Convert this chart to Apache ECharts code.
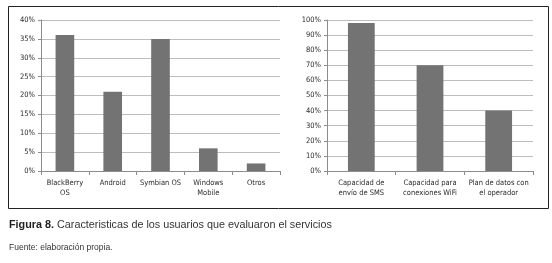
<!DOCTYPE html>
<html>
<head>
<meta charset="utf-8">
<script src="https://cdn.jsdelivr.net/npm/echarts@6/dist/echarts.min.js"></script>
<style>
  html, body { margin: 0; padding: 0; background: #fff; }
  #main { width: 552px; height: 263px; }
</style>
</head>
<body>
<div id="main"></div>
<script>
// left chart: sistema operativo
var osCategories = ['BlackBerry\nOS', 'Android', 'Symbian OS', 'Windows\nMobile', 'Otros'];
var osValues = [36, 21, 35, 6, 2];
var osTicks = [0, 40, 5];

// right chart: capacidades
var capCategories = ['Capacidad de\nenvío de SMS', 'Capacidad para\nconexiones WiFi', 'Plan de datos con\nel operador'];
var capValues = [98, 70, 40];
var capTicks = [0, 100, 10];

var captionTitle = 'Figura 8.';
var captionText = ' Caracteristicas de los usuarios que evaluaron el servicios';
var sourceText = 'Fuente: elaboración propia.';

var labelFont = "'DejaVu Sans Condensed', 'Liberation Sans Narrow', sans-serif";
var captionFont = "'Liberation Sans', Arial, sans-serif";
var barColor = '#737373';

function xAxisFor(idx, cats) {
    return {
        type: 'category',
        gridIndex: idx,
        data: cats,
        axisLine: { lineStyle: { color: '#8c8c8c', width: 1 } },
        axisTick: { show: true, length: 4, lineStyle: { color: '#8c8c8c' } },
        axisLabel: {
            color: '#2a2a2a',
            fontSize: 7.5,
            fontFamily: labelFont,
            lineHeight: 10,
            margin: 7,
            interval: 0
        }
    };
}

function yAxisFor(idx, ticks) {
    return {
        type: 'value',
        gridIndex: idx,
        min: ticks[0],
        max: ticks[1],
        interval: ticks[2],
        axisLine: { show: true, lineStyle: { color: '#8c8c8c', width: 1 } },
        axisTick: { show: true, length: 3, lineStyle: { color: '#8c8c8c' } },
        splitLine: { lineStyle: { color: '#bdbdbd', width: 1 } },
        axisLabel: {
            color: '#2a2a2a',
            fontSize: 7.5,
            fontFamily: labelFont,
            margin: 6,
            formatter: '{value}%'
        }
    };
}

var chart = echarts.init(document.getElementById('main'));

var option = {
    animation: false,
    backgroundColor: '#fff',
    grid: [
        { left: 41, right: 272, top: 20, bottom: 92 },
        { left: 327, right: 19, top: 20, bottom: 92 }
    ],
    xAxis: [xAxisFor(0, osCategories), xAxisFor(1, capCategories)],
    yAxis: [yAxisFor(0, osTicks), yAxisFor(1, capTicks)],
    series: [
        {
            type: 'bar',
            xAxisIndex: 0,
            yAxisIndex: 0,
            data: osValues,
            barWidth: '39%',
            itemStyle: { color: barColor }
        },
        {
            type: 'bar',
            xAxisIndex: 1,
            yAxisIndex: 1,
            data: capValues,
            barWidth: '39%',
            itemStyle: { color: barColor }
        }
    ],
    graphic: [
        {
            type: 'rect',
            shape: { x: 8.5, y: 6.5, width: 540, height: 202 },
            style: { fill: 'none', stroke: '#222', lineWidth: 1 },
            silent: true
        },
        {
            type: 'text',
            left: 9,
            top: 220,
            style: {
                text: '{b|' + captionTitle + '}{n|' + captionText + '}',
                rich: {
                    b: { fontSize: 10.8, fontWeight: 'bold', fontFamily: captionFont, fill: '#222' },
                    n: { fontSize: 10.8, fontFamily: captionFont, fill: '#333' }
                }
            }
        },
        {
            type: 'text',
            left: 9,
            top: 243,
            style: {
                text: sourceText,
                fontSize: 8.5,
                fontFamily: captionFont,
                fill: '#333'
            }
        }
    ]
};

chart.setOption(option);
</script>
</body>
</html>
